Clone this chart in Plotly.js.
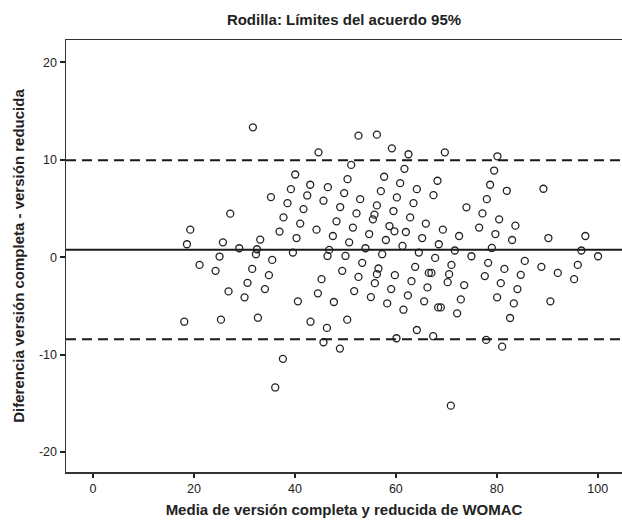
<!DOCTYPE html>
<html>
<head>
<meta charset="utf-8">
<script src="https://cdn.plot.ly/plotly-3.0.1.min.js"></script>
<style>html,body{margin:0;padding:0;background:#fff;}#chart{width:622px;height:521px;}</style>
</head>
<body>
<div id="chart"></div>
<script>
// Mean of full and short WOMAC versions (x) and their difference (y)
const meanScore = [
27.19,19.27,18.61,25.74,28.97,25.07,21.11,24.28,26.85,30.02,30.61,18.08,25.35,31.54,31.68,
52.59,56.24,44.67,59.21,62.50,51.15,61.70,40.06,50.42,57.68,43.03,46.53,39.21,60.85,64.16,
35.25,42.44,49.76,57.03,60.20,38.53,45.66,52.93,41.70,48.97,56.24,63.49,37.74,52.20,55.76,
55.45,59.52,62.83,41.05,48.24,58.73,59.72,65.94,36.95,44.28,51.49,54.71,61.98,33.13,40.32,
47.52,50.75,58.02,65.21,32.48,32.28,39.60,46.79,46.46,50.02,53.98,57.29,61.31,64.55,35.50,
34.85,34.06,40.59,45.27,49.37,53.33,52.59,56.55,56.24,55.84,51.74,44.55,47.72,55.05,59.07,
59.80,63.82,63.09,62.38,58.28,61.50,65.60,66.26,66.53,32.67,43.09,46.34,50.36,45.66,48.91,
60.12,64.16,37.62,36.10,69.70,80.12,79.47,68.24,78.67,81.98,89.23,67.45,78.02,73.98,77.15,
80.46,69.31,76.50,83.68,79.72,72.53,83.03,90.22,97.54,68.51,71.68,79.01,96.75,67.78,74.97,
100.06,71.01,78.28,81.50,85.54,88.83,92.08,96.04,95.31,67.05,70.55,70.26,77.62,84.75,73.53,
80.79,84.08,68.38,68.91,72.87,72.14,80.06,83.37,82.63,90.61,67.39,77.88,81.05,70.89
];
const difference = [
4.47,2.83,1.33,1.53,0.92,0.07,-0.79,-1.40,-3.51,-4.12,-2.63,-6.62,-6.41,-1.20,13.33,
12.48,12.58,10.77,11.18,10.57,9.48,9.07,8.49,8.01,8.26,7.44,7.19,6.99,7.60,6.99,
6.17,6.34,6.58,6.78,6.14,5.55,5.80,5.96,4.94,5.15,5.32,5.55,4.09,4.50,4.37,
3.89,4.74,4.09,3.45,3.68,3.20,2.66,3.45,2.63,2.83,3.04,2.38,2.59,1.81,1.97,
2.18,1.53,1.77,1.97,0.82,0.31,0.48,0.75,0.13,0.13,0.92,0.31,1.16,0.48,-0.28,
-1.84,-3.27,-4.53,-2.25,-1.40,-0.58,-2.02,-1.16,-1.74,-2.66,-3.48,-3.71,-4.60,-4.09,-3.27,
-1.84,-0.99,-2.46,-3.92,-4.74,-5.39,-4.53,-3.10,-1.61,-6.21,-6.62,-7.26,-6.41,-8.73,-9.38,
-8.32,-7.47,-10.43,-13.37,10.77,10.36,8.90,7.85,7.44,6.82,7.03,6.37,5.96,5.12,4.50,
3.89,2.83,3.04,3.24,2.38,2.18,1.77,1.97,2.18,1.33,0.69,0.95,0.69,-0.07,0.10,
0.10,-0.79,-0.58,-1.20,-0.38,-0.99,-1.61,-0.79,-2.25,-1.61,-1.74,-2.56,-1.94,-1.81,-2.86,
-2.66,-3.27,-5.15,-5.15,-4.33,-5.76,-4.12,-4.74,-6.24,-4.53,-8.11,-8.49,-9.18,-15.24
];
// Bland-Altman reference lines
const meanDifference = 0.77;
const upperLimit = 9.96;
const lowerLimit = -8.42;
// Axis ticks
const xTicks = [0, 20, 40, 60, 80, 100];
const yTicks = [-20, -10, 0, 10, 20];

const FONT = 'Liberation Sans, Arial, Helvetica, sans-serif';

const trace = {
  x: meanScore,
  y: difference,
  type: 'scatter',
  mode: 'markers',
  marker: {symbol: 'circle-open', size: 7, color: '#222', line: {width: 1.3, color: '#222'}},
  hoverinfo: 'x+y'
};

function hline(y, dash) {
  return {type: 'line', xref: 'paper', x0: 0, x1: 1, yref: 'y', y0: y, y1: y,
          line: {color: '#1a1a1a', width: 2, dash: dash}, layer: 'above'};
}

const layout = {
  width: 622, height: 521,
  margin: {l: 66, r: 0, t: 40, b: 49, pad: 0},
  paper_bgcolor: '#fff', plot_bgcolor: '#fff',
  showlegend: false,
  font: {family: FONT, size: 12, color: '#222'},
  title: {text: '<b>Rodilla: Límites del acuerdo 95%</b>', font: {family: FONT, size: 15, color: '#222'},
          x: 346, xref: 'paper', xanchor: 'center', y: 0.962, yanchor: 'middle'},
  xaxis: {
    range: [-5.35, 104.8], tickvals: xTicks, ticktext: xTicks.map(String),
    showgrid: false, zeroline: false, showline: true, mirror: true, linecolor: '#333', linewidth: 1.5,
    ticks: 'outside', ticklen: 4, tickwidth: 2, tickcolor: '#222',
    tickfont: {family: FONT, size: 12.5, color: '#222'},
    title: {text: '<b>Media de versión completa y reducida de WOMAC</b>', font: {family: FONT, size: 15, color: '#222'}, standoff: 10}
  },
  yaxis: {
    range: [-22.05, 22.3], tickvals: yTicks, ticktext: yTicks.map(String),
    showgrid: false, zeroline: false, showline: true, linecolor: '#333', linewidth: 1.5,
    ticks: 'outside', ticklen: 5, tickwidth: 2, tickcolor: '#222',
    tickfont: {family: FONT, size: 12.5, color: '#222'},
    title: {text: '<b>Diferencia versión completa - versión reducida</b>', font: {family: FONT, size: 15, color: '#222'}, standoff: 10}
  },
  shapes: [
    hline(upperLimit, '10px,6px'),
    hline(meanDifference, 'solid'),
    hline(lowerLimit, '10px,6px')
  ]
};
layout.title.x = 0.5;

Plotly.newPlot('chart', [trace], layout, {displayModeBar: false, staticPlot: true});
</script>
</body>
</html>
